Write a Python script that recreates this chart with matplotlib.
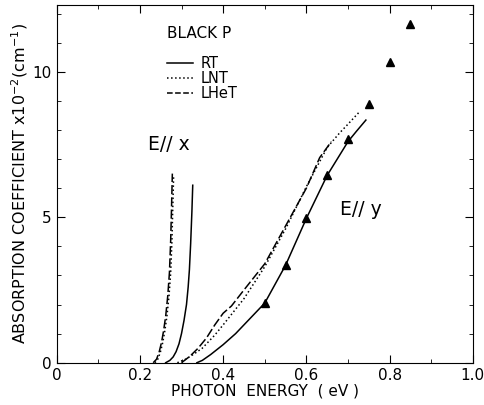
import numpy as np
import matplotlib
matplotlib.use("Agg")
import matplotlib.pyplot as plt
from matplotlib.ticker import MultipleLocator

# E // x absorption edges (eV, x10^2 cm^-1)
ex_rt_e = [0.262, 0.272, 0.280, 0.287, 0.294, 0.300, 0.306, 0.312, 0.316, 0.319, 0.322, 0.325, 0.327]
ex_rt_a = [0.0, 0.08, 0.2, 0.38, 0.65, 1.0, 1.45, 2.0, 2.6, 3.2, 4.1, 5.2, 6.1]
ex_lnt_e = [0.236, 0.243, 0.249, 0.255, 0.260, 0.265, 0.270, 0.274, 0.277, 0.279, 0.281]
ex_lnt_a = [0.0, 0.12, 0.35, 0.7, 1.1, 1.6, 2.3, 3.1, 4.2, 5.3, 6.4]
ex_lhet_e = [0.232, 0.240, 0.246, 0.252, 0.257, 0.262, 0.267, 0.271, 0.274, 0.276, 0.278]
ex_lhet_a = [0.0, 0.12, 0.35, 0.7, 1.1, 1.6, 2.3, 3.1, 4.2, 5.3, 6.5]

# E // y absorption
ey_rt_e = [0.337, 0.35, 0.37, 0.40, 0.43, 0.46, 0.50, 0.55, 0.60, 0.65, 0.70, 0.72, 0.743]
ey_rt_a = [0.0, 0.08, 0.28, 0.62, 1.0, 1.45, 2.05, 3.35, 4.96, 6.44, 7.6, 7.95, 8.34]
ey_lnt_e = [0.29, 0.31, 0.33, 0.35, 0.38, 0.40, 0.45, 0.50, 0.55, 0.60, 0.65, 0.68, 0.70, 0.726]
ey_lnt_a = [0.0, 0.12, 0.3, 0.5, 0.95, 1.3, 2.2, 3.3, 4.6, 6.05, 7.4, 7.9, 8.2, 8.6]
ey_lhet_e = [0.30, 0.32, 0.34, 0.36, 0.38, 0.40, 0.42, 0.45, 0.50, 0.55, 0.60, 0.632, 0.66]
ey_lhet_a = [0.0, 0.22, 0.5, 0.85, 1.3, 1.7, 1.95, 2.5, 3.4, 4.7, 6.0, 7.05, 7.6]

# triangles
tri_e = [0.50, 0.55, 0.60, 0.65, 0.70, 0.75, 0.80, 0.85]
tri_a = [2.05, 3.35, 4.96, 6.44, 7.69, 8.89, 10.33, 11.64]

plt.rcParams['font.family'] = ['DejaVu Sans']

fig = plt.figure(figsize=(4.84, 4.05), dpi=100)
ax = fig.add_axes([0.117, 0.1044, 0.86, 0.8836])

lw = 1.1
ax.plot(ex_rt_e, ex_rt_a, 'k-', lw=lw)
ax.plot(ex_lnt_e, ex_lnt_a, 'k:', lw=lw)
ax.plot(ex_lhet_e, ex_lhet_a, 'k--', lw=lw, dashes=(6, 2))
ax.plot(ey_rt_e, ey_rt_a, 'k-', lw=lw)
ax.plot(ey_lnt_e, ey_lnt_a, 'k:', lw=lw)
ax.plot(ey_lhet_e, ey_lhet_a, 'k--', lw=lw, dashes=(6, 2))
ax.plot(tri_e, tri_a, 'k^', ms=6, ls='none')

ax.set_xlim(0, 1.0)
ax.set_ylim(0, 12.3)
ax.set_xticks([0, 0.2, 0.4, 0.6, 0.8, 1.0])
ax.set_xticklabels(["0", "0.2", "0.4", "0.6", "0.8", "1.0"])
ax.set_yticks([0, 5, 10])
ax.xaxis.set_minor_locator(MultipleLocator(0.1))
ax.yaxis.set_minor_locator(MultipleLocator(1))
ax.tick_params(which='both', direction='in', top=True, right=True, labelsize=11)
ax.tick_params(which='major', length=6)
ax.tick_params(which='minor', length=3)

ax.set_xlabel("PHOTON  ENERGY  ( eV )", fontsize=11, labelpad=1)
ax.set_ylabel("ABSORPTION COEFFICIENT x10$^{-2}$(cm$^{-1}$)", fontsize=11.5, labelpad=2)

# legend drawn by hand like the original
ax.text(0.265, 11.3, "BLACK P", fontsize=11, ha='left', va='center')
leg = [("RT", '-'), ("LNT", ':'), ("LHeT", '--')]
for i, (name, ls) in enumerate(leg):
    yy = 10.3 - i * 0.52
    ax.plot([0.265, 0.328], [yy, yy], 'k', ls=ls, lw=lw)
    ax.text(0.345, yy, name, fontsize=10.5, ha='left', va='center')

ax.text(0.22, 7.5, "E// x", fontsize=13.5, ha='left', va='center')
ax.text(0.68, 5.25, "E// y", fontsize=13.5, ha='left', va='center')

fig.savefig("out.png", dpi=100)
